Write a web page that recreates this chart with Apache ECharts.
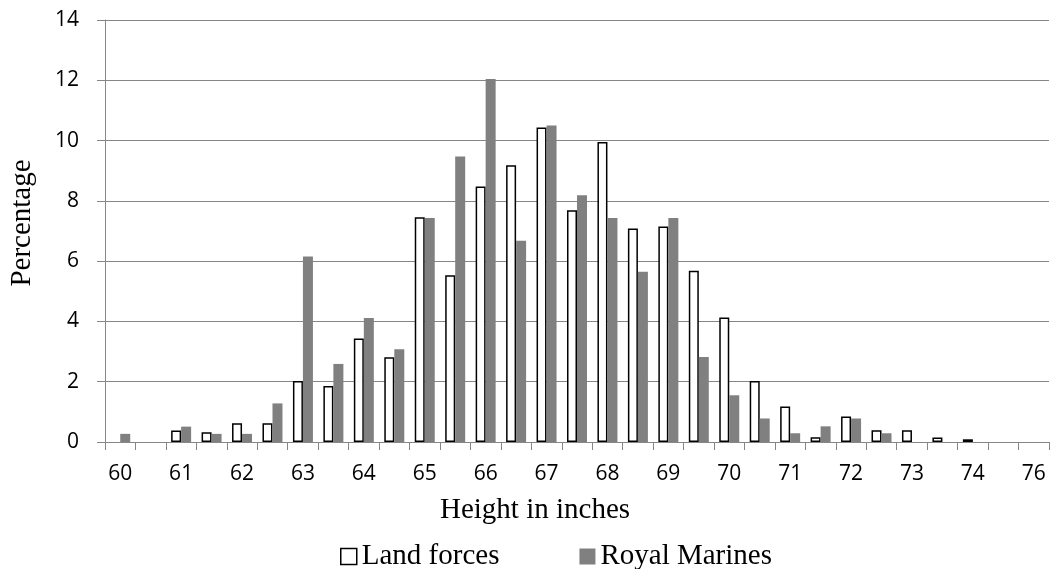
<!DOCTYPE html>
<html>
<head>
<meta charset="utf-8">
<title>Height in inches</title>
<script src="https://cdn.jsdelivr.net/npm/echarts@6/dist/echarts.min.js"></script>
<style>
  html, body { margin: 0; padding: 0; background: #fff; }
  #chart { width: 1053px; height: 569px; }
</style>
</head>
<body>
<div id="chart"></div>
<script>
// Height classes in half-inch steps (75 is not a class; the last one is 76)
const categories = [
  '60', '60.5', '61', '61.5', '62', '62.5', '63', '63.5', '64', '64.5',
  '65', '65.5', '66', '66.5', '67', '67.5', '68', '68.5', '69', '69.5',
  '70', '70.5', '71', '71.5', '72', '72.5', '73', '73.5', '74', '74.5', '76'
];

// Percentage of men in each height class
const landForces = [
  0, 0, 0.38, 0.32, 0.62, 0.62, 2.02, 1.86, 3.43, 2.81,
  7.46, 5.53, 8.48, 9.18, 10.43, 7.69, 9.95, 7.08, 7.15, 5.68,
  4.13, 2.02, 1.18, 0.16, 0.85, 0.39, 0.39, 0.15, 0.09, 0, 0
];
const royalMarines = [
  0.27, 0, 0.51, 0.27, 0.27, 1.28, 6.15, 2.59, 4.11, 3.08,
  7.43, 9.47, 12.04, 6.68, 10.50, 8.19, 7.43, 5.65, 7.43, 2.82,
  1.55, 0.78, 0.29, 0.52, 0.78, 0.29, 0, 0, 0, 0, 0
];

const yTicks = { min: 0, max: 14, interval: 2 };

// Empty classes get no bar at all (an outlined bar of height 0 would leave a stroke)
const noEmpty = arr => arr.map(v => (v === 0 ? null : v));

const serif = '"Liberation Serif", "Times New Roman", serif';
const sans = '"Open Sans", "Noto Sans", sans-serif';
const axisGray = '#868686';

const chart = echarts.init(document.getElementById('chart'), null, { renderer: 'canvas' });

chart.setOption({
  animation: false,
  backgroundColor: '#ffffff',
  grid: { left: 103, right: 4, top: 20, bottom: 127, containLabel: false },
  legend: {
    left: 335,
    top: 537,
    itemWidth: 16,
    itemHeight: 16,
    itemGap: 80,
    icon: 'rect',
    textStyle: { fontFamily: serif, fontSize: 29, color: '#000' },
    data: [
      { name: 'Land forces', itemStyle: { color: '#ffffff', borderColor: '#000', borderWidth: 1.5 } },
      { name: 'Royal Marines', itemStyle: { color: '#808080' } }
    ]
  },
  xAxis: {
    type: 'category',
    data: categories,
    boundaryGap: true,
    name: 'Height in inches',
    nameLocation: 'middle',
    nameGap: 54,
    nameTextStyle: { fontFamily: serif, fontSize: 29, color: '#000', padding: [0, 84, 0, 0] },
    axisLine: { show: true, lineStyle: { color: axisGray, width: 1 } },
    axisTick: { show: true, interval: 0, length: 8, alignWithLabel: false, lineStyle: { color: axisGray } },
    axisLabel: {
      interval: 1,
      margin: 22,
      fontFamily: sans,
      fontSize: 21,
      color: '#000'
    },
    splitLine: { show: false }
  },
  yAxis: {
    type: 'value',
    min: yTicks.min,
    max: yTicks.max,
    interval: yTicks.interval,
    name: 'Percentage',
    nameLocation: 'middle',
    nameGap: 68,
    nameRotate: 90,
    nameTextStyle: { fontFamily: serif, fontSize: 29, color: '#000', padding: [0, 0, 0, 16] },
    axisLine: { show: true, lineStyle: { color: axisGray, width: 1 } },
    axisTick: { show: true, length: 8, lineStyle: { color: axisGray } },
    axisLabel: { margin: 26, fontFamily: sans, fontSize: 21, color: '#000' },
    splitLine: { show: true, lineStyle: { color: axisGray, width: 1 } }
  },
  series: [
    {
      name: 'Land forces',
      type: 'bar',
      data: noEmpty(landForces),
      barWidth: 10,
      barGap: '0%',
      itemStyle: { color: '#ffffff', borderColor: '#000000', borderWidth: 1.5 }
    },
    {
      name: 'Royal Marines',
      type: 'bar',
      data: noEmpty(royalMarines),
      barWidth: 10,
      barGap: '0%',
      itemStyle: { color: '#808080' }
    }
  ]
});
</script>
</body>
</html>
